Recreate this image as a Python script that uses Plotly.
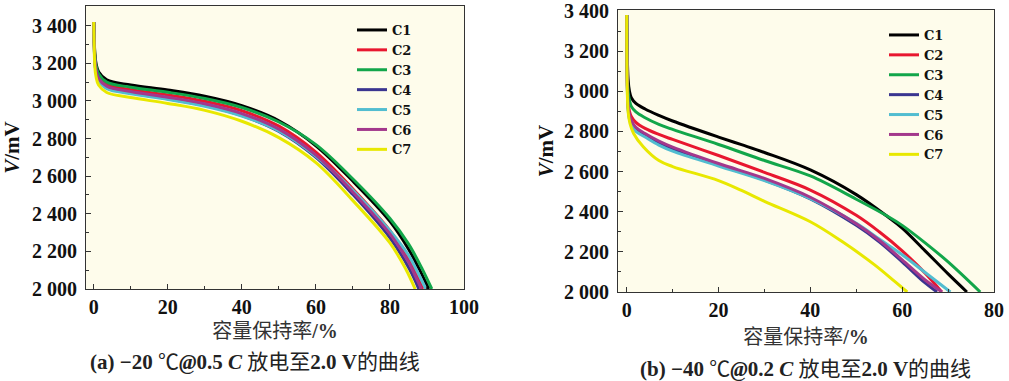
import plotly.graph_objects as go

# ---------------- data ----------------
SERIES = ["C1", "C2", "C3", "C4", "C5", "C6", "C7"]
COLORS = ["#000000", "#E8172F", "#12A64A", "#3A3590", "#52BDD0", "#A3388C", "#E8E800"]

# Panel (a): -20 C @ 0.5C
A_C1_X = [0, 0.3, 0.6, 1.3, 3.5, 10, 20, 30, 40, 50, 60, 70, 80, 85, 88.0, 90.5]
A_C1_V = [3420, 3250, 3200, 3155, 3112, 3085, 3058, 3025, 2975, 2895, 2762, 2573, 2360, 2213, 2103, 2000]
A_C2_X = [0, 0.3, 0.6, 1.3, 3.5, 10, 20, 30, 40, 50, 60, 70, 80, 85, 86.4, 88.9]
A_C2_V = [3420, 3225, 3175, 3130, 3088, 3060, 3032, 2998, 2948, 2866, 2728, 2532, 2310, 2160, 2105, 2000]
A_C3_X = [0, 0.3, 0.6, 1.3, 3.5, 10, 20, 30, 40, 50, 60, 70, 80, 85, 88.8, 91.3]
A_C3_V = [3420, 3240, 3190, 3145, 3100, 3073, 3046, 3013, 2965, 2888, 2768, 2585, 2375, 2240, 2103, 2000]
A_C4_X = [0, 0.3, 0.6, 1.3, 3.5, 10, 20, 30, 40, 50, 60, 70, 80, 85.3, 87.8]
A_C4_V = [3420, 3210, 3158, 3112, 3070, 3042, 3012, 2976, 2922, 2838, 2700, 2502, 2272, 2105, 2000]
A_C5_X = [0, 0.3, 0.6, 1.3, 3.5, 10, 20, 30, 40, 50, 60, 70, 80, 85, 87.2, 89.7]
A_C5_V = [3420, 3205, 3153, 3107, 3065, 3038, 3008, 2972, 2920, 2840, 2706, 2525, 2310, 2180, 2100, 2000]
A_C6_X = [0, 0.3, 0.6, 1.3, 3.5, 10, 20, 30, 40, 50, 60, 70, 80, 85, 86.0, 88.5]
A_C6_V = [3420, 3215, 3165, 3120, 3078, 3050, 3020, 2985, 2933, 2850, 2712, 2515, 2293, 2143, 2105, 2000]
A_C7_X = [0, 0.3, 0.6, 1.3, 3.5, 10, 20, 30, 40, 50, 60, 70, 80, 84.3, 86.8]
A_C7_V = [3420, 3180, 3130, 3085, 3045, 3018, 2987, 2950, 2892, 2805, 2672, 2470, 2245, 2105, 2000]

# Panel (b): -40 C @ 0.2C
B_C1_X = [0, 0.3, 0.6, 1, 2, 4, 7, 10, 20, 25, 30, 40, 50, 57, 60, 65, 70, 74.1]
B_C1_V = [3380, 3060, 3000, 2968, 2940, 2912, 2880, 2852, 2772, 2734, 2695, 2608, 2485, 2372, 2318, 2205, 2090, 2000]
B_C2_X = [0, 0.3, 0.6, 1, 2, 4, 7, 10, 20, 30, 40, 50, 55, 60, 65, 68.6]
B_C2_V = [3380, 2950, 2900, 2875, 2845, 2815, 2785, 2760, 2680, 2596, 2508, 2382, 2300, 2205, 2094, 2000]
B_C3_X = [0, 0.3, 0.6, 1, 2, 4, 7, 10, 20, 30, 40, 50, 57, 60, 65, 70, 77]
B_C3_V = [3380, 3000, 2955, 2925, 2897, 2868, 2835, 2810, 2735, 2655, 2578, 2462, 2375, 2332, 2245, 2150, 2000]
B_C4_X = [0, 0.3, 0.6, 1, 2, 4, 7, 10, 20, 30, 40, 50, 55, 60, 65, 67.6]
B_C4_V = [3380, 2920, 2870, 2845, 2810, 2780, 2742, 2712, 2632, 2558, 2464, 2332, 2250, 2150, 2045, 2000]
B_C5_X = [0, 0.3, 0.6, 1, 2, 4, 7, 10, 20, 30, 40, 50, 55, 60, 65, 70.5]
B_C5_V = [3380, 2910, 2860, 2835, 2800, 2772, 2732, 2702, 2628, 2555, 2465, 2342, 2264, 2186, 2097, 2000]
B_C6_X = [0, 0.3, 0.6, 1, 2, 4, 7, 10, 20, 30, 40, 50, 55, 60, 65, 68.7]
B_C6_V = [3380, 2930, 2880, 2855, 2820, 2790, 2752, 2722, 2640, 2566, 2472, 2340, 2258, 2160, 2060, 2000]
B_C7_X = [0, 0.3, 0.7, 1.5, 3.6, 7, 10, 20, 25, 30, 40, 47, 54, 58.5, 61.1]
B_C7_V = [3380, 2900, 2840, 2790, 2724, 2655, 2625, 2555, 2506, 2452, 2350, 2250, 2135, 2050, 2000]

Y_TICKS = [2000, 2200, 2400, 2600, 2800, 3000, 3200, 3400]
Y_TICKTEXT = ["2 000", "2 200", "2 400", "2 600", "2 800", "3 000", "3 200", "3 400"]
A_X_TICKS = [0, 20, 40, 60, 80, 100]
B_X_TICKS = [0, 20, 40, 60, 80]

X_TITLE = "容量保持率<b>/%</b>"
Y_TITLE = "<i>V</i>/mV"
CAPTION_A = "<b>(a) −20</b> ℃<b><i>@</i>0.5 <i>C</i></b> 放电至<b>2.0 V</b>的曲线"
CAPTION_B = "<b>(b) −40</b> ℃<b><i>@</i>0.2 <i>C</i></b> 放电至<b>2.0 V</b>的曲线"

A_XS = [A_C1_X, A_C2_X, A_C3_X, A_C4_X, A_C5_X, A_C6_X, A_C7_X]
A_VS = [A_C1_V, A_C2_V, A_C3_V, A_C4_V, A_C5_V, A_C6_V, A_C7_V]
B_XS = [B_C1_X, B_C2_X, B_C3_X, B_C4_X, B_C5_X, B_C6_X, B_C7_X]
B_VS = [B_C1_V, B_C2_V, B_C3_V, B_C4_V, B_C5_V, B_C6_V, B_C7_V]

# ---------------- figure ----------------
W, H = 1009, 381
SERIF = "Liberation Serif, Times New Roman, serif"
LEGSERIF = "DejaVu Serif, serif"
MIX = "Liberation Serif, Noto Sans CJK SC, serif"
AX = "#333333"
BG = "#FEFCEB"

fig = go.Figure()
for name, color, xs, vs in zip(SERIES, COLORS, A_XS, A_VS):
    fig.add_trace(go.Scatter(x=xs, y=vs, mode="lines", name=name,
                             line=dict(color=color, width=3, shape="spline", smoothing=1.0),
                             xaxis="x", yaxis="y", legend="legend"))
for name, color, xs, vs in zip(SERIES, COLORS, B_XS, B_VS):
    fig.add_trace(go.Scatter(x=xs, y=vs, mode="lines", name=name,
                             line=dict(color=color, width=3, shape="spline", smoothing=1.0),
                             xaxis="x2", yaxis="y2", legend="legend2"))


def xaxis_cfg(domain, rng, ticks, anchor, standoff):
    return dict(domain=domain, range=rng, anchor=anchor, tickvals=ticks,
                ticktext=[str(t) for t in ticks], automargin=False,
                ticks="inside", ticklen=5, tickwidth=1, tickcolor=AX,
                showline=True, mirror=True, linecolor=AX, linewidth=1,
                showgrid=False, zeroline=False,
                minor=dict(ticks="inside", ticklen=3, tickcolor=AX, dtick=10, tick0=0, showgrid=False),
                tickfont=dict(family=SERIF, size=20, color="#111", weight="bold"),
                title=dict(text=X_TITLE, font=dict(family=MIX, size=20, color="#333"), standoff=standoff))


def yaxis_cfg(domain, rng, anchor, standoff):
    return dict(domain=domain, range=rng, anchor=anchor, tickvals=Y_TICKS, ticktext=Y_TICKTEXT,
                automargin=False,
                ticks="inside", ticklen=5, tickwidth=1, tickcolor=AX,
                showline=True, mirror=True, linecolor=AX, linewidth=1,
                showgrid=False, zeroline=False,
                minor=dict(ticks="inside", ticklen=3, tickcolor=AX, dtick=100, tick0=2000, showgrid=False),
                tickfont=dict(family=SERIF, size=20, color="#111", weight="bold"),
                ticklabelstandoff=4,
                title=dict(text=Y_TITLE, font=dict(family=SERIF, size=21, color="#111", weight="bold"), standoff=standoff))


legend_common = dict(xanchor="left", yanchor="top", bgcolor="rgba(0,0,0,0)",
                     font=dict(family=LEGSERIF, size=13, color="#111", weight="bold"),
                     tracegroupgap=0, itemwidth=30, borderwidth=0)

fig.update_layout(
    width=W, height=H,
    margin=dict(l=0, r=0, t=0, b=0, autoexpand=False),
    paper_bgcolor="white", plot_bgcolor=BG,
    xaxis=xaxis_cfg([86 / W, 464 / W], [-2.1, 100], A_X_TICKS, "y", 6),
    yaxis=yaxis_cfg([(H - 289) / H, (H - 6) / H], [2000, 3505], "x", 10),
    xaxis2=xaxis_cfg([618 / W, 994 / W], [-1.9, 80], B_X_TICKS, "y2", 9),
    yaxis2=yaxis_cfg([(H - 292) / H, (H - 10) / H], [2000, 3405], "x2", 4),
    legend=dict(x=352 / W, y=(H - 15) / H, **legend_common),
    legend2=dict(x=884 / W, y=(H - 20) / H, **legend_common),
    annotations=[
        dict(text=CAPTION_A, x=255 / W, y=(H - 362) / H, xref="paper", yref="paper",
             showarrow=False, xanchor="center", yanchor="middle",
             font=dict(family=MIX, size=21, color="#222")),
        dict(text=CAPTION_B, x=805 / W, y=(H - 369) / H, xref="paper", yref="paper",
             showarrow=False, xanchor="center", yanchor="middle",
             font=dict(family=MIX, size=21, color="#222")),
    ],
)

fig.write_html("out.html", config={"displayModeBar": False},
               post_script="document.body.style.margin='0';document.body.style.overflow='hidden';")
